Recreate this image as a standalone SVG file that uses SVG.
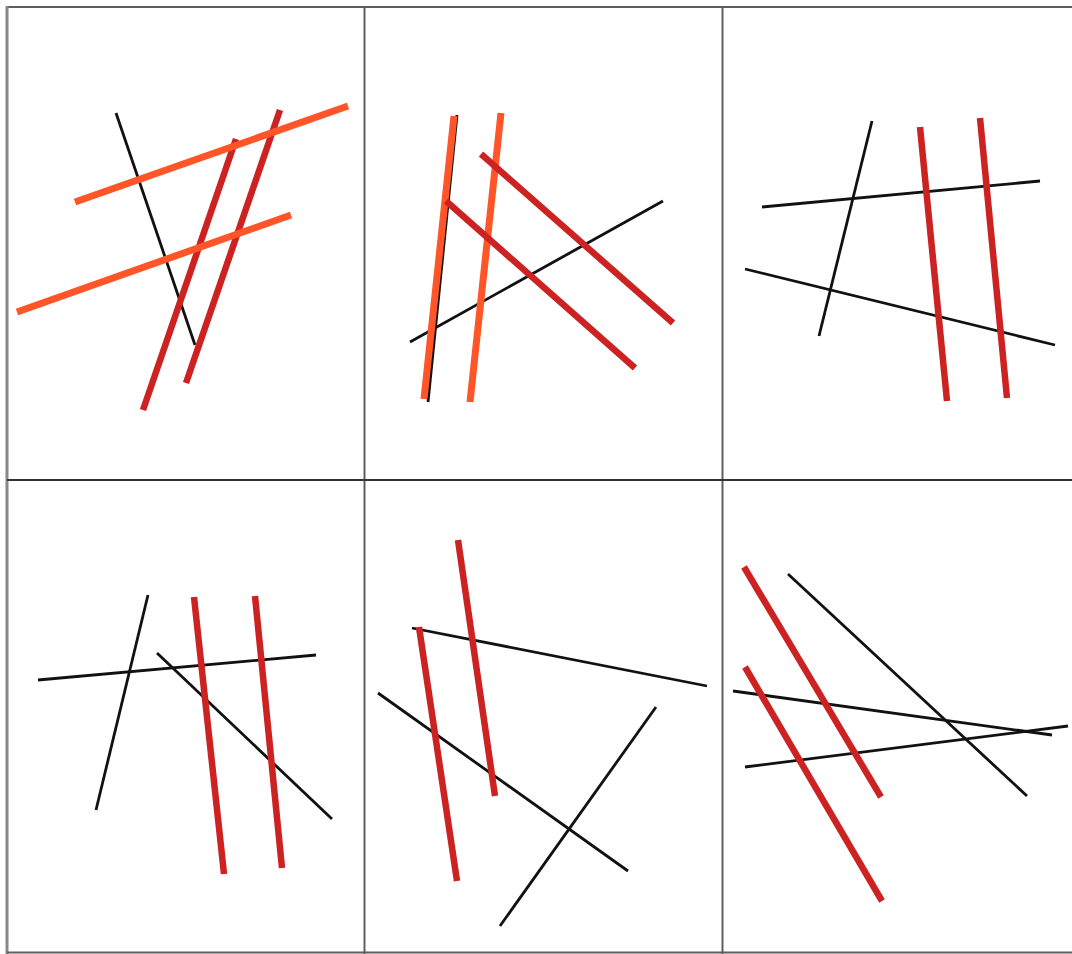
<svg xmlns="http://www.w3.org/2000/svg" width="1072" height="954" viewBox="0 0 1072 954">
<style>
.grid{stroke:#5e5e5e;stroke-width:2;fill:none}
.gridh{stroke:#333;stroke-width:2;fill:none}
.k{stroke:#111;stroke-width:2.8;stroke-linecap:butt}
.r{stroke:#cc2222;stroke-width:6.5;stroke-linecap:butt}
.o{stroke:#ff5529;stroke-width:7;stroke-linecap:butt}
</style>
<rect width="1072" height="954" fill="#fff"/>
<g id="grid">
<line class="grid" x1="7" y1="7" x2="1072" y2="7"/>
<line class="grid" x1="7" y1="6" x2="7" y2="954" style="stroke:#888;stroke-width:3"/>
<line class="grid" x1="7" y1="952.5" x2="1072" y2="952.5"/>
<line class="grid" x1="364.5" y1="6" x2="364.5" y2="954"/>
<line class="grid" x1="722.5" y1="6" x2="722.5" y2="954"/>
<line class="gridh" x1="7" y1="480" x2="1072" y2="480"/>
</g>
<g id="panel1">
<line class="k" x1="116" y1="113" x2="195" y2="345"/>
<line class="r" x1="236" y1="139" x2="143" y2="410"/>
<line class="r" x1="280" y1="110" x2="186" y2="383"/>
<line class="o" x1="75" y1="202" x2="348" y2="106"/>
<line class="o" x1="17" y1="312" x2="291" y2="215"/>
</g>
<g id="panel2">
<line class="k" x1="457" y1="115" x2="428" y2="402"/>
<line class="k" x1="410" y1="342" x2="663" y2="201"/>
<line class="o" x1="454" y1="116" x2="424" y2="399"/>
<line class="o" x1="501" y1="113" x2="470" y2="402"/>
<line class="r" x1="481" y1="154" x2="673" y2="323"/>
<line class="r" x1="446" y1="201" x2="635" y2="368"/>
</g>
<g id="panel3">
<line class="k" x1="872" y1="121" x2="819" y2="336"/>
<line class="k" x1="762" y1="207" x2="1040" y2="181"/>
<line class="k" x1="745" y1="269" x2="1055" y2="345"/>
<line class="r" x1="920" y1="127" x2="947" y2="401"/>
<line class="r" x1="980" y1="118" x2="1007" y2="398"/>
</g>
<g id="panel4">
<line class="k" x1="148" y1="595" x2="96" y2="810"/>
<line class="k" x1="38" y1="680" x2="316" y2="655"/>
<line class="k" x1="157" y1="653" x2="332" y2="819"/>
<line class="r" x1="194" y1="597" x2="224" y2="874"/>
<line class="r" x1="255" y1="596" x2="282" y2="868"/>
</g>
<g id="panel5">
<line class="k" x1="412" y1="628" x2="707" y2="686"/>
<line class="k" x1="378" y1="693" x2="628" y2="871"/>
<line class="k" x1="656" y1="707" x2="500" y2="926"/>
<line class="r" x1="458" y1="540" x2="495" y2="796"/>
<line class="r" x1="419" y1="627" x2="457" y2="881"/>
</g>
<g id="panel6">
<line class="k" x1="788" y1="574" x2="1027" y2="796"/>
<line class="k" x1="733" y1="691" x2="1052" y2="735"/>
<line class="k" x1="745" y1="767" x2="1068" y2="726"/>
<line class="r" x1="744" y1="567" x2="881" y2="797"/>
<line class="r" x1="745" y1="667" x2="882" y2="901"/>
</g>
</svg>
